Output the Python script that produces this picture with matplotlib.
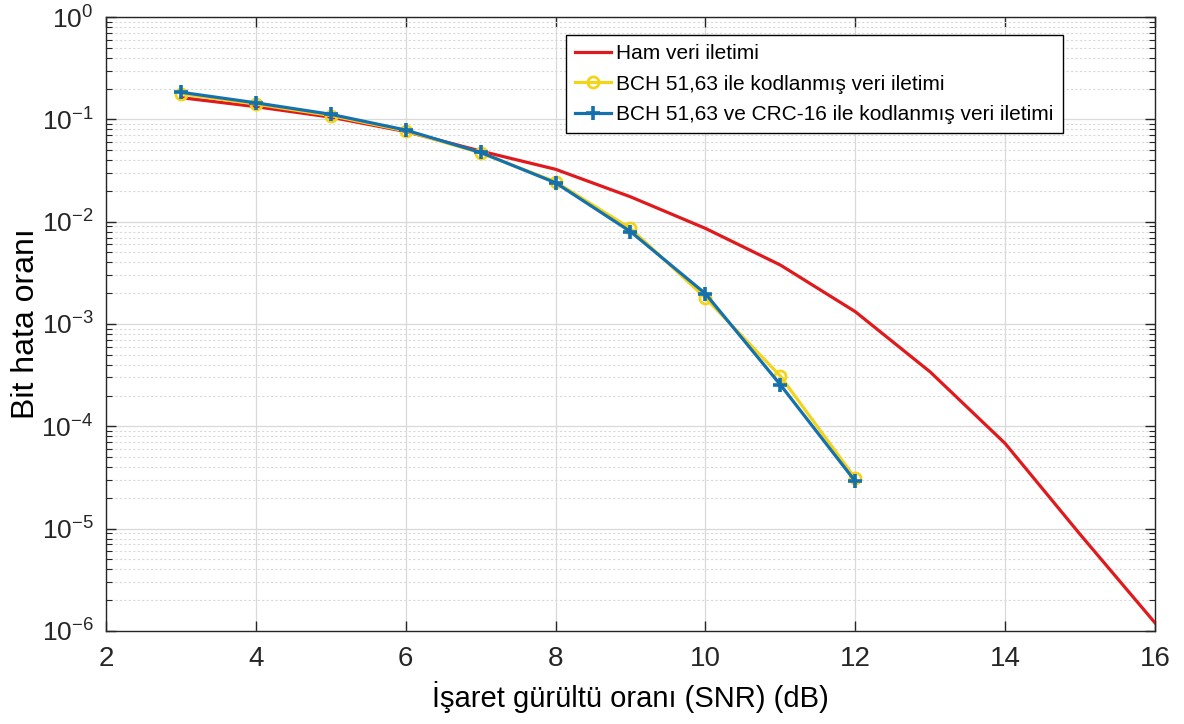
import matplotlib

matplotlib.use("Agg")

import matplotlib.pyplot as plt  # noqa: E402
import numpy as np  # noqa: E402
from matplotlib.ticker import LogLocator, NullFormatter  # noqa: E402

plt.rcParams["font.family"] = ["Liberation Sans", "DejaVu Sans"]
plt.rcParams["mathtext.fontset"] = "custom"
plt.rcParams["mathtext.rm"] = "Liberation Sans"

# SNR values (dB)
snr_raw = [3, 4, 5, 6, 7, 8, 9, 10, 11, 12, 13, 14, 15, 16]
snr_coded = [3, 4, 5, 6, 7, 8, 9, 10, 11, 12]

# bit error rate per series
ber_raw = [0.163, 0.133, 0.105, 0.076, 0.049, 0.0325, 0.0175, 0.0086,
           0.00377, 0.00132, 3.4e-4, 6.8e-5, 8.8e-6, 1.2e-6]
ber_bch = [0.178, 0.141, 0.109, 0.077, 0.047, 0.0245, 0.0086, 0.00180,
           3.1e-4, 3.1e-5]
ber_bch_crc = [0.184, 0.145, 0.112, 0.0786, 0.0475, 0.0240, 0.0080, 0.00198,
               2.55e-4, 2.9e-5]

labels = [
    "Ham veri iletimi",
    "BCH 51,63 ile kodlanmış veri iletimi",
    "BCH 51,63 ve CRC-16 ile kodlanmış veri iletimi",
]
x_ticks = [2, 4, 6, 8, 10, 12, 14, 16]

RED = "#e01a1c"
YELLOW = "#f3d41a"
BLUE = "#1571ae"

fig = plt.figure(figsize=(11.84, 7.24), dpi=100)
ax = fig.add_axes([0.0895, 0.1285, 0.886, 0.848])

ax.plot(snr_raw, ber_raw, color=RED, linewidth=2.3, label=labels[0], zorder=3)
ax.plot(snr_coded, ber_bch, color=YELLOW, linewidth=2.3, marker="o",
        markersize=8, markerfacecolor="none", markeredgewidth=2.0,
        label=labels[1], zorder=4)
ax.plot(snr_coded, ber_bch_crc, color=BLUE, linewidth=2.3, marker="+",
        markersize=10, markeredgewidth=2.6, label=labels[2], zorder=5)

ax.set_yscale("log")
ax.set_xlim(2, 16)
ax.set_ylim(1e-6, 1)
ax.set_xticks(x_ticks)
ax.yaxis.set_major_locator(LogLocator(base=10, numticks=10))
ax.yaxis.set_minor_locator(LogLocator(base=10, subs=np.arange(2, 10), numticks=100))
ax.yaxis.set_minor_formatter(NullFormatter())

ax.grid(True, which="major", color="#d9d9d9", linewidth=0.9, zorder=0)
ax.grid(True, which="minor", axis="y", color="#d9d9d9", linestyle=(0, (2, 2)),
        linewidth=0.8, zorder=0)
ax.set_axisbelow(True)

ax.tick_params(which="both", direction="in", top=True, right=True,
               colors="#262626")
ax.tick_params(axis="x", labelsize=20, pad=11)
ax.tick_params(axis="y", labelsize=19, pad=9)
ax.tick_params(which="major", length=7, width=1.0)
ax.tick_params(which="minor", length=4, width=0.8)
for spine in ax.spines.values():
    spine.set_color("#262626")
    spine.set_linewidth(1.0)

ax.set_xlabel("İşaret gürültü oranı (SNR) (dB)", fontsize=21, labelpad=6)
ax.set_ylabel("Bit hata oranı", fontsize=23, labelpad=0)

leg = ax.legend(loc="upper right", bbox_to_anchor=(0.912, 0.971), fontsize=15,
                frameon=True, fancybox=False, edgecolor="black", framealpha=1,
                handlelength=1.7, handletextpad=0.25, borderpad=0.45,
                labelspacing=0.55, borderaxespad=0)
leg.get_frame().set_linewidth(1.0)

fig.savefig("out.png", dpi=100)
